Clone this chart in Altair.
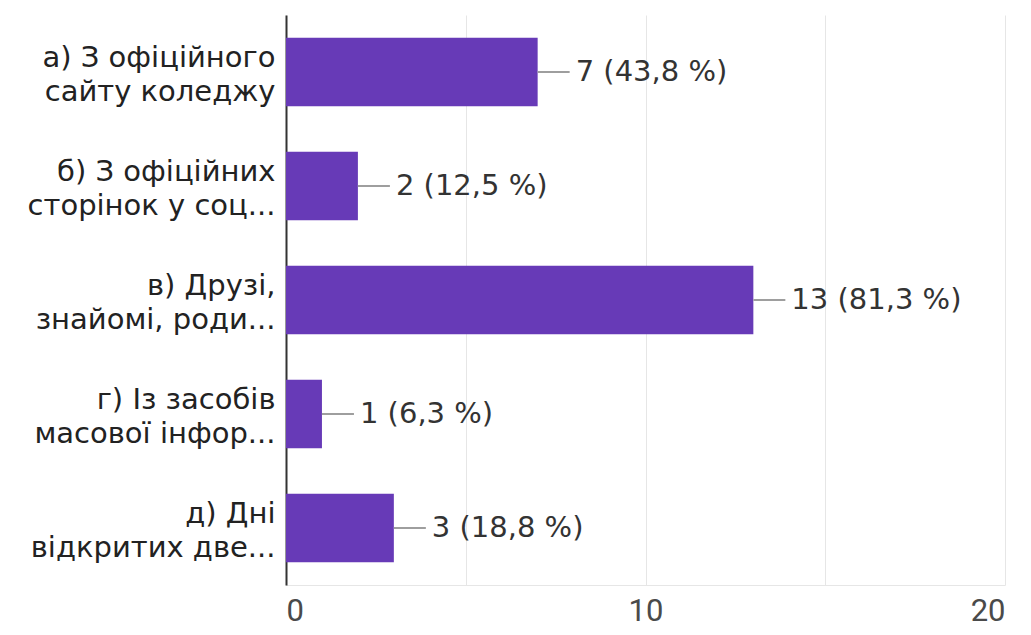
import altair as alt
import pandas as pd

categories = [
    "а) З офіційного|сайту коледжу",
    "б) З офіційних|сторінок у соц...",
    "в) Друзі,|знайомі, роди...",
    "г) Із засобів|масової інфор...",
    "д) Дні|відкритих две...",
]
counts = [7, 2, 13, 1, 3]
labels = ["7 (43,8 %)", "2 (12,5 %)", "13 (81,3 %)", "1 (6,3 %)", "3 (18,8 %)"]
x_ticks = [0, 5, 10, 15, 20]

df = pd.DataFrame({"cat": categories, "n": counts, "lab": labels})

FONT = "DejaVu Sans"
y_enc = alt.Y(
    "cat:N",
    sort=categories,
    title=None,
    scale=alt.Scale(paddingInner=0.4, paddingOuter=0.2),
    axis=alt.Axis(
        labelExpr="split(datum.label, '|')",
        labelFont=FONT,
        labelFontSize=29,
        labelColor="#222222",
        labelLineHeight=34,
        labelPadding=11,
        labelOffset=-14,
        ticks=False,
        domainColor="#333333",
        domainWidth=2,
        labelLimit=400,
    ),
)
x_enc = alt.X(
    "n:Q",
    title=None,
    scale=alt.Scale(domain=[0, 20], nice=False),
    axis=alt.Axis(
        values=x_ticks,
        labelExpr="datum.value % 10 == 0 ? datum.label : ''",
        labelFont="Roboto",
        labelFontSize=31,
        labelColor="#4a4a4a",
        labelPadding=11,
        ticks=False,
        grid=True,
        gridColor="#e6e6e6",
        gridWidth=1,
        domainColor="#e6e6e6",
        domainWidth=1,
    ),
)

base = alt.Chart(df)
bars = base.mark_bar(color="#673AB7").encode(x=x_enc, y=y_enc)
leaders = base.mark_rule(color="#9e9e9e", strokeWidth=2, x2Offset=32).encode(
    x="n:Q", x2="n:Q", y=alt.Y("cat:N", sort=categories, bandPosition=0.5)
)
texts = base.mark_text(
    align="left", baseline="middle", dx=38, font=FONT, fontSize=29, color="#333333"
).encode(x="n:Q", y=alt.Y("cat:N", sort=categories), text="lab:N")

chart = (
    alt.layer(bars, leaders, texts)
    .properties(
        width=719,
        height=570,
        autosize=alt.AutoSizeParams(type="none"),
        padding={"left": 278, "top": 7, "right": 18, "bottom": 42},
        background="white",
    )
    .configure_view(stroke=None)
)

chart.save("out.html", embed_options={"renderer": "svg", "actions": False})
